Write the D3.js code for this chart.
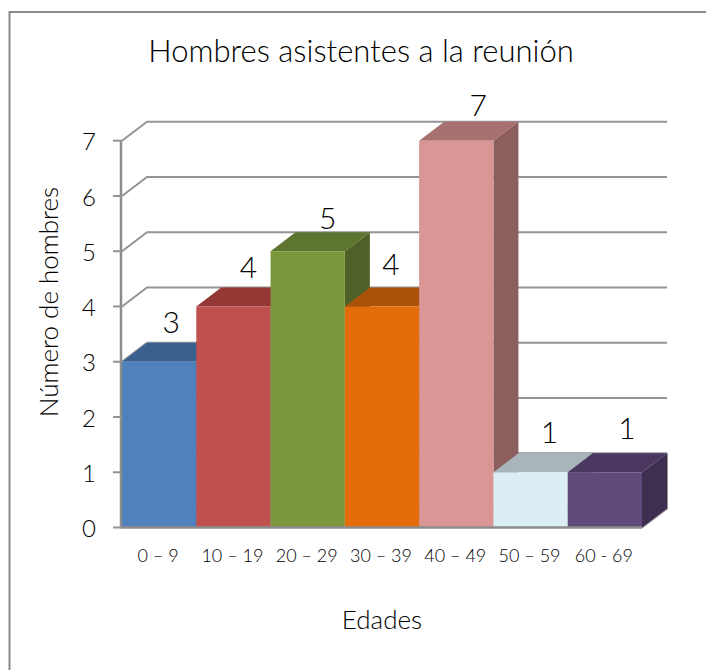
<!DOCTYPE html>
<html><head><meta charset="utf-8"><script src="https://cdn.jsdelivr.net/npm/d3@7"></script>
<style>html,body{margin:0;background:#fff}text{font-family:"Lato","Open Sans",sans-serif;font-weight:300;fill:#000}</style></head><body>
<svg id="c" width="706" height="670" style="display:block"></svg>
<script>
const categories=["0 – 9","10 – 19","20 – 29","30 – 39","40 – 49","50 – 59","60 - 69"];
const values=[3,4,5,4,7,1,1];
const frontColors=["#4f81bd","#c0504d","#7a973c","#e46c0a","#d99694","#dbeef4","#604a7b"];
const topColors=["#3a6090","#953735","#5e7530","#a9530a","#a87170","#a8b5b9","#4a3860"];
const sideColors=["#2f5078","#7d2e2c","#4f6128","#8e4508","#8c5e5d","#8d989b","#3e2f50"];
const ticks=[0,1,2,3,4,5,6,7];
const labelNudgeX=[12,15,20,9,22,19,22];
const labelNudgeY=[-40,-39,-33,-42,-36,-40,-44];
const svg=d3.select("#c");
svg.append("path").attr("d","M9.5,670V12H706").attr("fill","none").attr("stroke","#8a8a8a").attr("stroke-width",2);
const x=d3.scaleBand().domain(categories).range([122,642]).padding(0);
const y=d3.scaleLinear().domain([0,7]).range([527.5,140.7]);
const dx=25,dy=-19;
const g=svg.append("g");
ticks.forEach(t=>{
 g.append("path").attr("fill","none").attr("stroke","#949494").attr("stroke-width",2)
  .attr("d",`M${x.range()[0]},${y(t)}L${x.range()[0]+dx},${y(t)+dy}L${x.range()[1]+dx},${y(t)+dy}`);
});
g.append("path").attr("fill","none").attr("stroke","#949494").attr("stroke-width",2)
 .attr("d",`M${x.range()[1]+dx},${y(1)+dy}V${y(0)+dy}L${x.range()[1]},${y(0)}`);
const bw=x.bandwidth();
categories.forEach((c,i)=>{
 const X=x(c),Y=y(values[i]),B=y(0);
 g.append("path").attr("fill",sideColors[i]).attr("d",`M${X+bw},${Y}L${X+bw+dx},${Y+dy}L${X+bw+dx},${B+dy}L${X+bw},${B}Z`);
 g.append("path").attr("fill",topColors[i]).attr("d",`M${X},${Y}L${X+dx},${Y+dy}L${X+bw+dx},${Y+dy}L${X+bw},${Y}Z`);
});
categories.forEach((c,i)=>{
 const X=x(c),Y=y(values[i]),B=y(0);
 g.append("rect").attr("x",X).attr("y",Y).attr("width",bw).attr("height",B-Y).attr("fill",frontColors[i]);
 g.append("text").attr("x",X+bw/2+labelNudgeX[i]).attr("y",Y+labelNudgeY[i]).attr("dy","0.36em").attr("text-anchor","middle").attr("font-size",30).text(values[i]);
 g.append("text").attr("x",X+bw/2-1).attr("y",562).attr("text-anchor","middle").attr("font-size",18).text(c);
});
g.append("line").attr("x1",x.range()[0]-1).attr("x2",x.range()[0]-1).attr("y1",y(0)).attr("y2",y(7)).attr("stroke","#8c8c8c").attr("stroke-width",2.5);
g.append("line").attr("x1",x.range()[0]-1).attr("x2",x.range()[1]).attr("y1",y(0)).attr("y2",y(0)).attr("stroke","#8c8c8c").attr("stroke-width",2.5);
ticks.forEach(t=>{g.append("line").attr("x1",113).attr("x2",x.range()[0]).attr("y1",y(t)).attr("y2",y(t)).attr("stroke","#949494").attr("stroke-width",2);
 g.append("text").attr("x",96).attr("y",y(t)+1).attr("dy","0.36em").attr("text-anchor","end").attr("font-size",24).text(t);});
svg.append("text").attr("x",361).attr("y",62).attr("text-anchor","middle").attr("font-size",31).text("Hombres asistentes a la reunión");
svg.append("text").attr("x",382).attr("y",629).attr("text-anchor","middle").attr("font-size",26).text("Edades");
svg.append("text").attr("transform","translate(58,302) rotate(-90)").attr("text-anchor","middle").attr("font-size",26).text("Número de hombres");
</script></body></html>
